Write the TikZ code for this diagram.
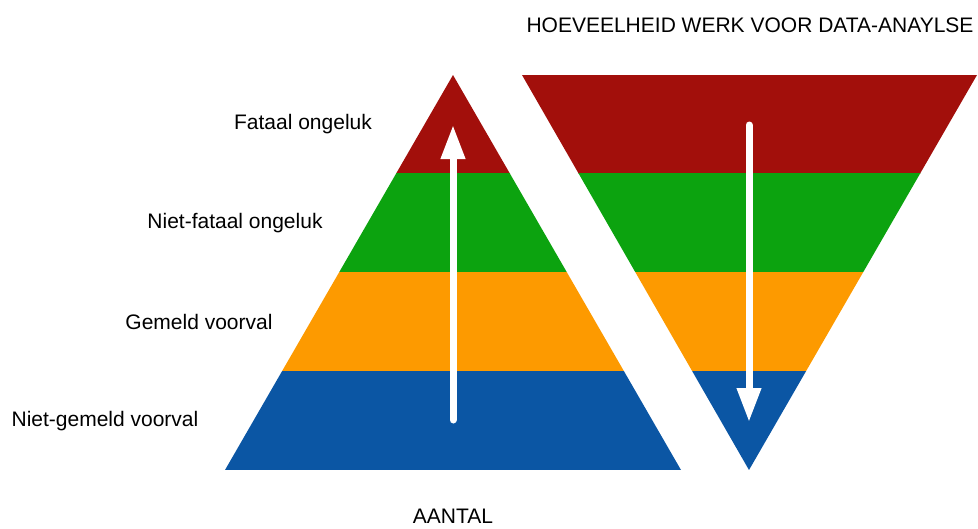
\documentclass[tikz,border=0pt]{standalone}
\usepackage{fontspec}
\setmainfont{Liberation Sans}
\usetikzlibrary{arrows.meta}
\definecolor{darkred}{HTML}{A20F0B}
\definecolor{green9}{HTML}{0CA30F}
\definecolor{orange9}{HTML}{FD9A00}
\definecolor{blue9}{HTML}{0B56A4}

\begin{document}
\begin{tikzpicture}
  [x=1pt, y=-1pt,
   every node/.style={font=\fontsize{21}{25}\selectfont, inner sep=0pt},
   label/.style={anchor=center},
   flow/.style={draw=white, line width=7pt, line cap=round,
                -{Triangle[width=23pt,length=34pt]}}]

  \useasboundingbox (0,0) rectangle (978,528);

  %Draw bands of the pyramid
  \begin{scope}
    \clip (453,75) -- (681,470) -- (225,470) -- cycle;
    \foreach \c/\y in {darkred/75,green9/173,orange9/272,blue9/371}
      \fill[\c] (200,\y) rectangle (700,\y+99);
  \end{scope}

  %Draw bands of the inverted pyramid
  \begin{scope}
    \clip (522,75) -- (977,75) -- (749,470) -- cycle;
    \foreach \c/\y in {darkred/75,green9/173,orange9/272,blue9/371}
      \fill[\c] (500,\y) rectangle (978,\y+99);
  \end{scope}

  %Arrows
  \coordinate (L_tail) at (453,420);
  \coordinate (L_head) at (453,125);
  \coordinate (R_tail) at (749,125);
  \coordinate (R_head) at (749,422);
  \draw[flow] (L_tail) -- (L_head);
  \draw[flow] (R_tail) -- (R_head);

  %Labels
  \node[label] (fataal)    at (303,124) {Fataal ongeluk};
  \node[label] (nietfataal) at (235,223) {Niet-fataal ongeluk};
  \node[label] (gemeld)    at (199,322) {Gemeld voorval};
  \node[label] (nietgemeld) at (105,421) {Niet-gemeld voorval};
  \node[label] (aantal)    at (453,516) {AANTAL};
  \node[label] (werk)      at (750,25)  {HOEVEELHEID WERK VOOR DATA-ANAYLSE};
\end{tikzpicture}
\end{document}
